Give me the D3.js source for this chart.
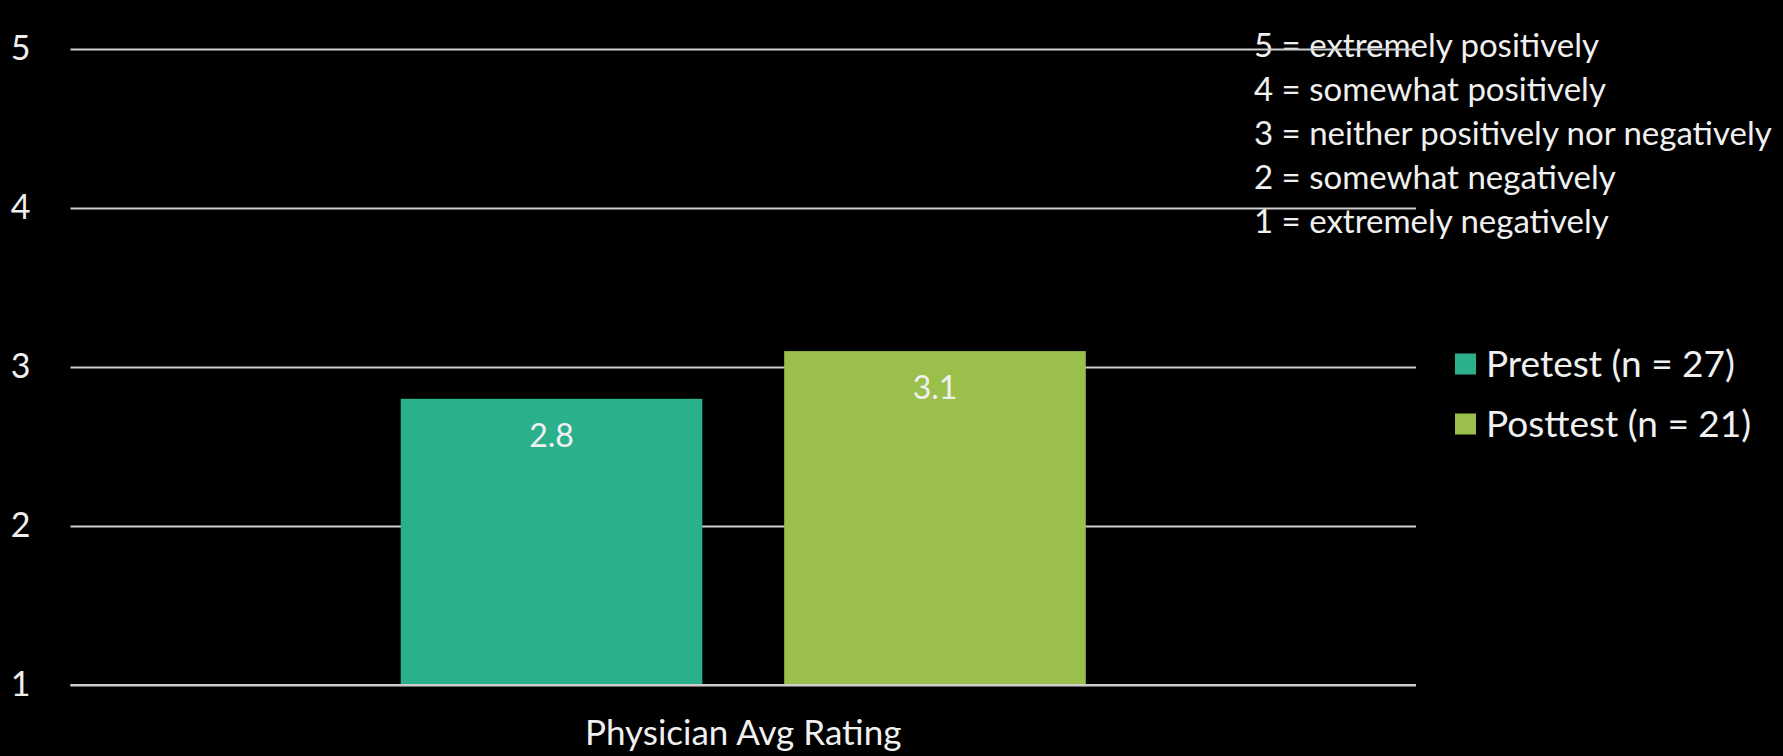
<!DOCTYPE html>
<html>
<head>
<meta charset="utf-8">
<script src="https://cdn.jsdelivr.net/npm/d3@7"></script>
<style>
  html, body { margin: 0; padding: 0; background: #000; }
  svg { display: block; }
  text { font-family: Lato, "Open Sans", sans-serif; fill: #f0f0f0; }
</style>
</head>
<body>
<svg id="chart" width="1783" height="756"></svg>
<script>
const categories = ["Physician Avg Rating"];
const seriesNames = ["Pretest (n = 27)", "Posttest (n = 21)"];
const pretestValues = [2.8];
const posttestValues = [3.1];
const yTicks = [1, 2, 3, 4, 5];
const scaleNotes = [
  "5 = extremely positively",
  "4 = somewhat positively",
  "3 = neither positively nor negatively",
  "2 = somewhat negatively",
  "1 = extremely negatively"
];
const colors = ["#2bb08c", "#9abf4b"];

(function () {
const svg = d3.select("#chart");
const mLeft = 70.5, mRight = 1416, mTop = 49, mBottom = 685;

const y = d3.scaleLinear().domain([1, 5]).range([mBottom, mTop]);
const x0 = d3.scaleBand().domain(categories).range([mLeft, mRight]).paddingInner(0).paddingOuter(0.482);
const x1 = d3.scaleBand().domain(seriesNames).range([0, x0.bandwidth()]).paddingInner(0.2135).paddingOuter(0);

// scale notes first (gridlines run over them)
const notes = svg.append("g");
notes.selectAll("text").data(scaleNotes).enter().append("text")
  .attr("x", 1254).attr("y", (d, i) => 57 + i * 43.9)
  .style("font-size", "33px").text(d => d);

// gridlines + tick labels
const yAxis = d3.axisLeft(y).tickValues(yTicks).tickFormat(d3.format("d"))
  .tickSize(-(mRight - mLeft)).tickPadding(40);
const gAxis = svg.append("g").attr("transform", `translate(${mLeft},0)`).call(yAxis);
gAxis.select(".domain").remove();
gAxis.selectAll(".tick line").attr("stroke", "#cfcfcf").attr("stroke-width", 1.8);
gAxis.selectAll(".tick text").attr("fill", "#f0f0f0").style("font-size", "34px")
  .attr("font-family", "Lato, sans-serif").attr("dy", "0.3em");

// bars
const data = categories.map((c, i) => ({
  cat: c,
  vals: [{ s: seriesNames[0], v: pretestValues[i], c: colors[0] },
         { s: seriesNames[1], v: posttestValues[i], c: colors[1] }]
}));
const gCat = svg.selectAll(".cat").data(data).enter().append("g")
  .attr("transform", d => `translate(${x0(d.cat)},0)`);
gCat.selectAll("rect").data(d => d.vals).enter().append("rect")
  .attr("x", d => x1(d.s)).attr("width", x1.bandwidth())
  .attr("y", d => y(d.v)).attr("height", d => y(1) - y(d.v))
  .attr("fill", d => d.c);
gCat.selectAll(".lbl").data(d => d.vals).enter().append("text")
  .attr("class", "lbl")
  .attr("x", d => x1(d.s) + x1.bandwidth() / 2)
  .attr("y", d => y(d.v) + 48)
  .attr("text-anchor", "middle")
  .style("font-size", "32px")
  .text(d => d.v.toFixed(1));

// baseline on top
svg.append("line").attr("x1", mLeft).attr("x2", mRight).attr("y1", y(1)).attr("y2", y(1))
  .attr("stroke", "#cfcfcf").attr("stroke-width", 1.8);

// category label
svg.selectAll(".catlbl").data(categories).enter().append("text")
  .attr("x", d => x0(d) + x0.bandwidth() / 2).attr("y", 745)
  .attr("text-anchor", "middle").style("font-size", "35px").text(d => d);

// legend
const leg = svg.append("g");
seriesNames.forEach((s, i) => {
  const yy = 364 + i * 60;
  leg.append("rect").attr("x", 1455).attr("y", yy - 10.5).attr("width", 21).attr("height", 21).attr("fill", colors[i]);
  leg.append("text").attr("x", 1486).attr("y", yy).attr("dy", "0.35em").style("font-size", "37px").text(s);
});
})();
</script>
</body>
</html>
